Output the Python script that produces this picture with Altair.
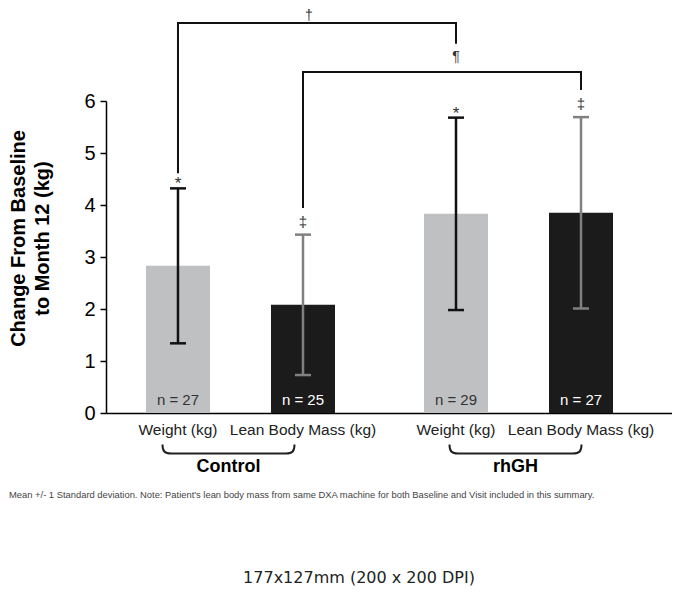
import altair as alt
import pandas as pd

# ---- data ----
groups = ["Control", "Control", "rhGH", "rhGH"]
measures = ["Weight (kg)", "Lean Body Mass (kg)", "Weight (kg)", "Lean Body Mass (kg)"]
means = [2.83, 2.08, 3.83, 3.85]
sds = [1.49, 1.35, 1.85, 1.84]
ns = [27, 25, 29, 27]
sig_marks = ["*", "\u2021", "*", "\u2021"]

group_order = ["Control", "rhGH"]
measure_order = ["Weight (kg)", "Lean Body Mass (kg)"]

# significance brackets (levels in axis units)
bracket_names = ["\u2020", "\u00b6"]
bracket_start = [("Control", "Weight (kg)"), ("Control", "Lean Body Mass (kg)")]
bracket_end = [("rhGH", "Weight (kg)"), ("rhGH", "Lean Body Mass (kg)")]
bracket_level = [7.5, 6.56]
bracket_start_low = [4.63, 3.96]
bracket_end_low = [7.12, 6.23]

footnote = ("Mean +/- 1 Standard deviation. Note: Patient's lean body mass from same DXA "
            "machine for both Baseline and Visit included in this summary.")
size_note = "177x127mm (200 x 200 DPI)"

df = pd.DataFrame({
    "group": groups, "measure": measures, "mean": means, "sd": sds,
    "n": ns, "sig": sig_marks,
})
df["lower"] = df["mean"] - df["sd"]
df["upper"] = df["mean"] + df["sd"]
df["nlabel"] = ["n = %d" % v for v in ns]

rows = []
for i, name in enumerate(bracket_names):
    g0, m0 = bracket_start[i]
    g1, m1 = bracket_end[i]
    rows += [
        {"bracket": name, "seq": 0, "group": g0, "measure": m0, "v": bracket_start_low[i]},
        {"bracket": name, "seq": 1, "group": g0, "measure": m0, "v": bracket_level[i]},
        {"bracket": name, "seq": 2, "group": g1, "measure": m1, "v": bracket_level[i]},
        {"bracket": name, "seq": 3, "group": g1, "measure": m1, "v": bracket_end_low[i]},
    ]
bdf = pd.DataFrame(rows)

gdf = pd.DataFrame({"group": group_order})
one = pd.DataFrame({"k": [0]})

FONT = "Liberation Sans"
PLOT_W, PLOT_H = 566, 312

x_enc = alt.X("group:N", scale=alt.Scale(domain=group_order, paddingInner=0.3201,
                                          paddingOuter=0.178, align=0.404),
              axis=alt.Axis(labels=False, ticks=False, title=None, domainColor="#000",
                            domainWidth=1.5, grid=False))
xo_enc = alt.XOffset("measure:N", scale=alt.Scale(domain=measure_order, paddingInner=0.488,
                                                  paddingOuter=0))
y_scale = alt.Scale(domain=[0, 6], nice=False, zero=True)

is_weight = "datum.measure === 'Weight (kg)'"

bars = alt.Chart(df).mark_bar().encode(
    x=x_enc, xOffset=xo_enc,
    y=alt.Y("mean:Q", scale=y_scale,
            axis=alt.Axis(values=[0, 1, 2, 3, 4, 5, 6], grid=False, domainColor="#000",
                          domainWidth=1.5, tickColor="#000", tickWidth=1.5, tickSize=6,
                          labelFontSize=20, labelColor="#000", labelFont=FONT,
                          labelPadding=5,
                          title=["Change From Baseline", "to Month 12 (kg)"],
                          titleFont=FONT, titleFontSize=20, titleFontWeight="bold",
                          titleColor="#000", titleAngle=270, titleAlign="center",
                          titleBaseline="alphabetic", titleX=-82, titleY=137,
                          titleLineHeight=24)),
    color=alt.condition(is_weight, alt.value("#bfc0c2"), alt.value("#1b1b1b")),
)

err = alt.Chart(df).mark_rule(strokeWidth=2.5).encode(
    x=x_enc, xOffset=xo_enc,
    y=alt.Y("lower:Q", scale=y_scale), y2="upper:Q",
    color=alt.condition(is_weight, alt.value("#111111"), alt.value("#808080")),
)

cap_shape = "M -1 0 L 1 0"
caps_top = alt.Chart(df).mark_point(shape=cap_shape, size=256, filled=False,
                                    strokeWidth=2.5, opacity=1).encode(
    x=x_enc, xOffset=xo_enc, y=alt.Y("upper:Q", scale=y_scale),
    color=alt.condition(is_weight, alt.value("#111111"), alt.value("#808080")),
)
caps_bot = alt.Chart(df).mark_point(shape=cap_shape, size=256, filled=False,
                                    strokeWidth=2.5, opacity=1).encode(
    x=x_enc, xOffset=xo_enc, y=alt.Y("lower:Q", scale=y_scale),
    color=alt.condition(is_weight, alt.value("#111111"), alt.value("#808080")),
)

nlab = alt.Chart(df).mark_text(font=FONT, fontSize=15, baseline="middle").encode(
    x=x_enc, xOffset=xo_enc, y=alt.value(299), text="nlabel:N",
    color=alt.condition(is_weight, alt.value("#333333"), alt.value("#ffffff")),
)

star = alt.Chart(df).transform_filter("datum.sig === '*'").mark_text(
    font=FONT, fontSize=17, baseline="middle", dy=-4, color="#333").encode(
    x=x_enc, xOffset=xo_enc, y=alt.Y("upper:Q", scale=y_scale), text="sig:N")
dagger = alt.Chart(df).transform_filter("datum.sig !== '*'").mark_text(
    font=FONT, fontSize=15, baseline="middle", dy=-13, color="#333").encode(
    x=x_enc, xOffset=xo_enc, y=alt.Y("upper:Q", scale=y_scale), text="sig:N")

xlab = alt.Chart(df).mark_text(font=FONT, fontSize=15.5, baseline="middle",
                               color="#222").encode(
    x=x_enc, xOffset=xo_enc, y=alt.value(329), text="measure:N")

brace_path = ("M -1 -0.07 C -1 0.03 -0.97 0.07 -0.87 0.07 L 0.87 0.07 "
              "C 0.97 0.07 1 0.03 1 -0.07")
group_shift = {"Control": -12, "rhGH": -3}
brace_layers = []
for g in group_order:
    brace_layers.append(
        alt.Chart(gdf).transform_filter(alt.datum.group == g).mark_point(
            shape=brace_path, size=17424, filled=False, strokeWidth=2, color="#222",
            opacity=1, xOffset=group_shift[g]).encode(x=x_enc, y=alt.value(348)))
    brace_layers.append(
        alt.Chart(gdf).transform_filter(alt.datum.group == g).mark_text(
            font=FONT, fontSize=18, fontWeight="bold", baseline="middle", color="#000",
            dx=group_shift[g]).encode(x=x_enc, y=alt.value(366), text="group:N"))

brackets = alt.Chart(bdf).mark_line(color="#111", strokeWidth=2,
                                    strokeCap="square").encode(
    x=x_enc, xOffset=xo_enc, y=alt.Y("v:Q", scale=y_scale),
    detail="bracket:N", order=alt.Order("seq:Q"))

dag_lab = alt.Chart(one).mark_text(text=bracket_names[0], font=FONT, fontSize=14,
                                   baseline="middle", color="#333").encode(
    x=alt.value(203), y=alt.value(-85))
para_df = pd.DataFrame({"group": [bracket_end[0][0]], "measure": [bracket_end[0][1]],
                        "t": [bracket_names[1]]})
para_lab = alt.Chart(para_df).mark_text(font=FONT, fontSize=14, baseline="middle",
                                        color="#333").encode(
    x=x_enc, xOffset=xo_enc, y=alt.value(-44), text="t:N")

foot = alt.Chart(one).mark_text(text=footnote, font=FONT, fontSize=9.4, align="left",
                                baseline="middle", color="#444").encode(
    x=alt.value(-97), y=alt.value(394))
dpi = alt.Chart(one).mark_text(text=size_note, font="DejaVu Sans", fontSize=16,
                               align="center", baseline="middle", color="#222").encode(
    x=alt.value(253), y=alt.value(477))

chart = alt.layer(
    bars, err, caps_top, caps_bot, nlab, star, dagger, xlab, *brace_layers,
    brackets, dag_lab, para_lab, foot, dpi
).properties(
    width=PLOT_W, height=PLOT_H,
    autosize=alt.AutoSizeParams(type="none"),
    padding={"left": 98, "top": 93, "right": 0, "bottom": 177},
    background="white",
).configure_view(stroke=None)

chart.save("out.html", embed_options={"renderer": "svg", "actions": False})
